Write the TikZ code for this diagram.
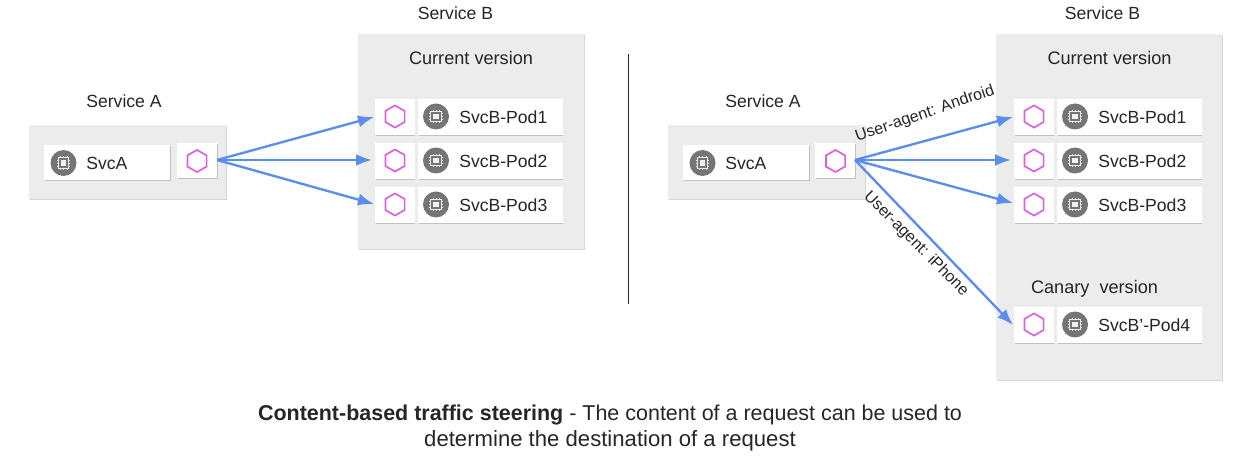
\documentclass[tikz,border=0pt]{standalone}
\usepackage{fontspec}
\setmainfont{Liberation Sans}
\usetikzlibrary{shapes.geometric,arrows.meta,shadows,calc}
\definecolor{panelgray}{HTML}{ECECEC}
\definecolor{iconsgray}{HTML}{757575}
\definecolor{hexpink}{HTML}{DD5FDD}
\definecolor{arrowblue}{HTML}{5B8DEC}
\definecolor{txt}{HTML}{262626}
\tikzset{
  panel/.style={fill=panelgray,draw=none,rectangle,inner sep=0pt,anchor=north west,
    drop shadow={shadow xshift=0.2pt,shadow yshift=-0.7pt,fill=black,opacity=.16}},
  whitecard/.style={fill=white,draw=none,rectangle,inner sep=0pt,anchor=north west,
    drop shadow={shadow xshift=0.2pt,shadow yshift=-0.7pt,fill=black,opacity=.18}},
  hexmark/.style={regular polygon,regular polygon sides=6,shape border rotate=30,draw=hexpink,
    line width=1.25pt,fill=white,minimum size=16.6pt,inner sep=0pt},
  chipdisc/.style={circle,fill=iconsgray,draw=none,minimum size=19.5pt,inner sep=0pt},
  lbl/.style={font=\fontsize{13.2}{16}\selectfont,text=txt,inner sep=0pt},
  headlbl/.style={font=\fontsize{13.6}{16}\selectfont,text=txt,inner sep=0pt},
  edgelbl/.style={font=\fontsize{12.1}{15}\selectfont,text=txt,inner sep=0pt},
  flow/.style={draw=arrowblue,line width=1.75pt,-{Latex[length=12pt,width=9pt]}},
}
\newcommand{\chipicon}[3]{%
  \node[chipdisc] (#1) at (#2,#3) {};
  \draw[white!85!iconsgray,line width=.5pt] ($(#1)+(-3.9pt,-3.9pt)$) rectangle ($(#1)+(3.9pt,3.9pt)$);
  \fill[white!90!iconsgray] ($(#1)+(-2pt,-2pt)$) rectangle ($(#1)+(2pt,2pt)$);
  \foreach \d in {-2.4,0,2.4}{
    \draw[white!75!iconsgray,line width=.3pt] ($(#1)+(\d pt,3.9pt)$) -- ($(#1)+(\d pt,5.2pt)$);
    \draw[white!75!iconsgray,line width=.3pt] ($(#1)+(\d pt,-3.9pt)$) -- ($(#1)+(\d pt,-5.2pt)$);
    \draw[white!75!iconsgray,line width=.3pt] ($(#1)+(3.9pt,\d pt)$) -- ($(#1)+(5.2pt,\d pt)$);
    \draw[white!75!iconsgray,line width=.3pt] ($(#1)+(-3.9pt,\d pt)$) -- ($(#1)+(-5.2pt,\d pt)$);
  }
}
\newcommand{\podrow}[4]{%
  \node[whitecard,minimum width=29.5pt,minimum height=26.5pt] (#1box) at (#2,#3) {};
  \node[hexmark] (#1hex) at (#2+20,#3+17.5) {};
  \node[whitecard,minimum width=108.5pt,minimum height=26.5pt] (#1card) at (#2+43,#3) {};
  \chipicon{#1chip}{#2+61}{#3+17.5}
  \node[lbl,anchor=west] (#1txt) at (#2+84,#3+18) {#4};
}
\begin{document}
\begin{tikzpicture}[x=0.75pt,y=-0.75pt]
\useasboundingbox (0,0) rectangle (1258,456);
\fill[white] (0,0) rectangle (1258,456);

%% left half
\node[panel,minimum width=147.75pt,minimum height=55.5pt] (pa1) at (29,125) {};
\node[panel,minimum width=169.5pt,minimum height=161.25pt] (pb1) at (358,34) {};
\node[lbl] (ta1) at (124,101) {Service A};
\node[lbl] (tb1) at (455.5,13) {Service B};
\node[headlbl] (tc1) at (471,58) {Current version};
\node[whitecard,minimum width=94.5pt,minimum height=26.25pt] (a1card) at (44,145) {};
\chipicon{a1chip}{63.5}{163}
\node[lbl,anchor=west] (a1txt) at (86,163) {SvcA};
\node[whitecard,minimum width=30pt,minimum height=26.25pt] (a1box) at (177,143) {};
\node[hexmark] (a1hex) at (197,161) {};
\podrow{l1}{375}{99}{SvcB-Pod1}
\podrow{l2}{375}{143}{SvcB-Pod2}
\podrow{l3}{375}{187}{SvcB-Pod3}
\coordinate (a1out) at (217,160);
\draw[flow] (a1out) -- (374,117);
\draw[flow] (a1out) -- (372,160);
\draw[flow] (a1out) -- (374,204);

%% divider
\coordinate (divtop) at (628,54);
\coordinate (divbot) at (628,304);
\draw[black!85,line width=.6pt] (divtop) -- (divbot);

%% right half
\node[panel,minimum width=147.75pt,minimum height=55.5pt] (pa2) at (668,125) {};
\node[panel,minimum width=169.5pt,minimum height=259.5pt] (pb2) at (996,34) {};
\node[lbl] (ta2) at (763,101) {Service A};
\node[lbl] (tb2) at (1102.5,13) {Service B};
\node[headlbl] (tc2) at (1109.5,58) {Current version};
\node[headlbl] (tc3) at (1094.5,288.5) {Canary\ \ version};
\node[whitecard,minimum width=94.5pt,minimum height=26.25pt] (a2card) at (683,145) {};
\chipicon{a2chip}{702.5}{163}
\node[lbl,anchor=west] (a2txt) at (725,163) {SvcA};
\node[whitecard,minimum width=30pt,minimum height=26.25pt] (a2box) at (815,143) {};
\node[hexmark] (a2hex) at (835.5,161) {};
\podrow{r1}{1014}{99}{SvcB-Pod1}
\podrow{r2}{1014}{143}{SvcB-Pod2}
\podrow{r3}{1014}{187}{SvcB-Pod3}
\podrow{r4}{1014}{307}{SvcB’-Pod4}
\coordinate (a2out) at (855,160);
\draw[flow] (a2out) -- (1013,117);
\draw[flow] (a2out) -- (1011,160);
\draw[flow] (a2out) -- (1013,203);
\draw[flow] (a2out) -- (1013,325);
\node[edgelbl,rotate=19] (ua) at (925,114) {User-agent: Android};
\node[edgelbl,rotate=-45] (ui) at (916,244) {User-agent: iPhone};

%% caption
\node[inner sep=0pt,font=\fontsize{16.1}{19}\selectfont,text=txt] (cap1) at (610,414.5) {\textbf{Content-based traffic steering} - The content of a request can be used to};
\node[inner sep=0pt,font=\fontsize{16.6}{19}\selectfont,text=txt] (cap2) at (610,440.5) {determine the destination of a request};
\end{tikzpicture}
\end{document}
